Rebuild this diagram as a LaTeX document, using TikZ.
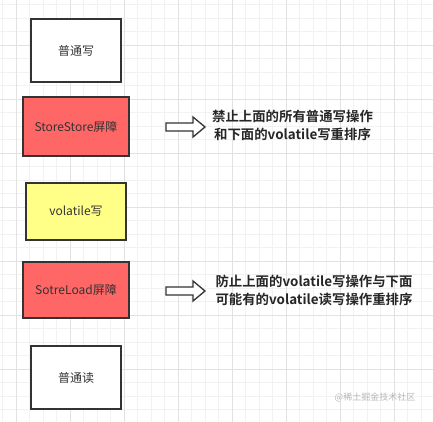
\documentclass[tikz,border=0pt]{standalone}
\usepackage{fontspec}
\setmainfont{Noto Sans CJK SC}[BoldFont={Noto Sans CJK SC Bold}]
\usepackage{tikz}
\usetikzlibrary{positioning}
\definecolor{edgegray}{HTML}{333333}
\definecolor{barred}{HTML}{FF6666}
\definecolor{volyellow}{HTML}{FFFF88}
\definecolor{gridminor}{HTML}{F2F2F2}
\definecolor{gridmajor}{HTML}{E2E2E2}

\begin{document}
\begin{tikzpicture}[x=1pt,y=-1pt,
  opbox/.style={draw=edgegray,line width=1.8pt,fill=white,inner sep=0pt,
    font=\fontsize{12}{14}\selectfont,text=edgegray},
  note/.style={align=center,font=\fontsize{13.4}{18}\selectfont\bfseries,text=black!85},
  blockarrow/.style={draw=edgegray,line width=1.3pt,fill=white,line join=miter}]
\useasboundingbox (0,0) rectangle (433,422);
\fill[white] (0,0) rectangle (433,422);
% ---------------- background grid ----------------
\foreach \k in {-1,...,31} {
  \pgfmathsetmacro{\xx}{16+13.5*\k}
  \pgfmathsetmacro{\yy}{18+13.5*\k}
  \draw[gridminor,line width=0.6pt] (\xx,0) -- (\xx,422);
  \draw[gridminor,line width=0.6pt] (0,\yy) -- (433,\yy);
}
\foreach \k in {0,...,8} {
  \pgfmathsetmacro{\xx}{16+54*\k}
  \pgfmathsetmacro{\yy}{-9+54*\k}
  \draw[gridmajor,line width=0.7pt] (\xx,0) -- (\xx,422);
  \draw[gridmajor,line width=0.7pt] (0,\yy) -- (433,\yy);
}
% ---------------- column of operations ----------------
\node[opbox,minimum width=90pt,minimum height=63pt] (wr) at (76,50.5) {普通写};
\node[opbox,fill=barred,minimum width=106pt,minimum height=59pt] (ssbar) at (76,126.5) {StoreStore屏障};
\node[opbox,fill=volyellow,minimum width=100pt,minimum height=57pt] (vwr) at (76,211.5) {volatile写};
\node[opbox,fill=barred,minimum width=106pt,minimum height=56pt] (slbar) at (76,290) {SotreLoad屏障};
\node[opbox,minimum width=90pt,minimum height=63pt] (rd) at (76,377.5) {普通读};
% ---------------- explanations ----------------
\node[note] (ssnote) at (292.5,125.5) {禁止上面的所有普通写操作\\和下面的volatile写重排序};
\node[note] (slnote) at (314,290.5) {防止上面的volatile写操作与下面\\可能有的volatile读写操作重排序};
% block arrows pointing at the notes
\draw[blockarrow] (166,123) -- (193,123) -- (193,117) -- (205,127) -- (193,137) -- (193,131) -- (166,131) -- cycle;
\draw[blockarrow,yshift=-164pt] (166,123) -- (193,123) -- (193,117) -- (205,127) -- (193,137) -- (193,131) -- (166,131) -- cycle;
% watermark
\node[font=\fontsize{9}{10}\selectfont,text=black!28] (mark) at (375,397) {@稀土掘金技术社区};
\end{tikzpicture}
\end{document}
